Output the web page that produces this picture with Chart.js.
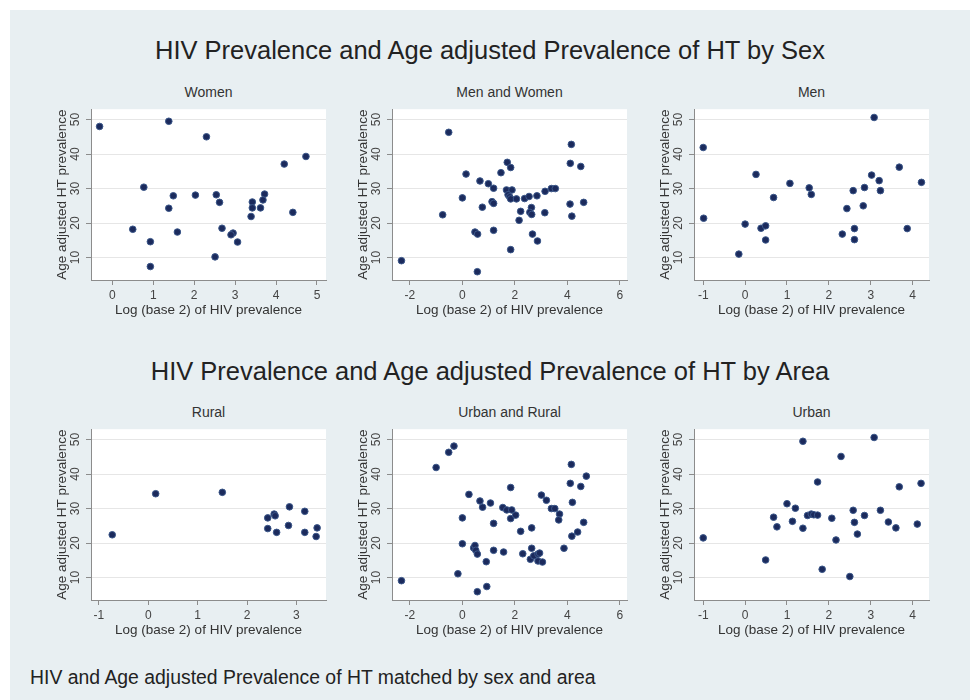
<!DOCTYPE html>
<html>
<head>
<meta charset="utf-8">
<script src="https://cdn.jsdelivr.net/npm/chart.js@4.4.1/dist/chart.umd.min.js"></script>
<style>
  body { margin: 0; background: #fff; font-family: "Liberation Sans", Arial, sans-serif; }
  #bg { position: absolute; left: 10px; top: 10px; width: 960px; height: 690px; background: #e8eff2; }
  .t { position: absolute; white-space: nowrap; color: #222; text-align: center; }
  canvas { position: absolute; }
</style>
</head>
<body>
<div id="bg"></div>
<div class="t" style="left:10px;width:960px;top:35px;font-size:25.5px;line-height:30px;">HIV Prevalence and Age adjusted Prevalence of HT by Sex</div>
<div class="t" style="left:10px;width:960px;top:356px;font-size:25.5px;line-height:30px;">HIV Prevalence and Age adjusted Prevalence of HT by Area</div>
<div class="t" style="left:30px;top:665px;font-size:19.4px;line-height:24px;text-align:left;">HIV and Age adjusted Prevalence of HT matched by sex and area</div>
<div id="wrap"></div>
<script>
// y axis shared by all six panels
const yTicks = [10, 20, 30, 40, 50];
const yMin = 3.5, yMax = 53;

// Women
const womenX = [-0.31, 1.38, 2.30, 4.73, 4.20, 0.77, 1.49, 2.03, 2.54, 2.62, 1.38, 3.72, 3.68, 3.42, 3.42, 3.62, 3.39, 4.41, 0.50, 1.59, 2.68, 2.95, 2.90, 3.06, 0.93, 0.93, 2.51];
const womenY = [48.0, 49.5, 45.0, 39.3, 37.1, 30.4, 27.9, 28.1, 28.2, 26.0, 24.3, 28.4, 26.7, 26.1, 24.4, 24.4, 21.9, 23.1, 18.2, 17.4, 18.5, 17.1, 16.6, 14.5, 14.6, 7.4, 10.2];

// Men and Women
const bothSexX = [-2.32, -0.52, -0.75, 0.00, 0.14, 0.67, 0.99, 1.19, 0.76, 1.13, 1.19, 1.47, 1.71, 1.84, 1.68, 1.89, 1.74, 1.80, 1.84, 2.06, 2.37, 2.54, 2.84, 3.15, 3.39, 3.54, 2.22, 2.16, 2.63, 2.57, 2.64, 3.14, 0.48, 0.58, 1.19, 2.67, 2.86, 1.84, 0.57, 4.15, 4.11, 4.51, 4.10, 4.62, 4.17];
const bothSexY = [9.1, 46.3, 22.4, 27.3, 34.2, 32.2, 31.4, 30.1, 24.6, 26.2, 25.7, 34.6, 37.6, 36.1, 29.6, 29.6, 28.2, 27.6, 27.0, 27.0, 27.1, 27.7, 27.9, 29.2, 30.0, 30.0, 23.4, 20.8, 24.5, 23.1, 22.5, 23.0, 17.4, 16.8, 17.9, 16.8, 14.8, 12.3, 5.9, 42.8, 37.3, 36.4, 25.5, 26.0, 22.0];

// Men
const menX = [-1.00, -0.99, 3.08, 3.68, 3.02, 3.20, 4.21, 3.23, 2.85, 2.58, 0.26, 1.07, 1.53, 1.58, 0.68, 2.43, 2.82, 0.00, 0.38, 0.49, 0.49, -0.15, 2.32, 2.61, 2.61, 3.87];
const menY = [41.9, 21.4, 50.6, 36.2, 33.9, 32.3, 31.8, 29.4, 30.3, 29.4, 34.1, 31.5, 30.2, 28.3, 27.4, 24.2, 25.0, 19.7, 18.5, 19.2, 15.1, 11.0, 16.8, 18.4, 15.2, 18.4];

// Rural
const ruralX = [-0.73, 0.15, 1.50, 2.42, 2.55, 2.57, 2.86, 3.17, 2.42, 2.84, 2.60, 3.17, 3.42, 3.40];
const ruralY = [22.4, 34.3, 34.7, 27.3, 28.4, 27.9, 30.5, 29.2, 24.2, 25.1, 23.1, 23.1, 24.4, 21.9];

// Urban and Rural
const bothAreaX = [-2.32, -1.00, -0.52, -0.32, 0.25, 0.00, 0.00, -0.17, 0.67, 0.77, 1.07, 1.19, 0.43, 0.48, 0.51, 0.57, 0.91, 0.57, 0.93, 1.19, 1.57, 1.54, 1.69, 1.88, 1.84, 2.03, 1.84, 2.22, 2.30, 2.64, 2.64, 2.59, 2.72, 2.88, 2.94, 2.88, 3.05, 3.01, 3.20, 3.39, 3.52, 3.70, 3.67, 3.87, 4.15, 4.11, 4.72, 4.51, 4.19, 4.62, 4.39, 4.17];
const bothAreaY = [9.1, 41.9, 46.3, 48.1, 34.1, 27.3, 19.8, 11.1, 32.2, 30.4, 31.6, 25.7, 18.6, 19.3, 17.9, 16.8, 14.6, 5.9, 7.4, 17.9, 17.4, 30.3, 29.6, 29.6, 27.1, 28.1, 36.1, 23.4, 16.9, 24.4, 18.5, 15.3, 16.3, 16.8, 17.1, 14.8, 14.5, 33.9, 32.4, 30.0, 30.0, 28.4, 26.7, 18.5, 42.8, 37.3, 39.4, 36.4, 31.8, 26.0, 23.2, 22.0];

// Urban
const urbanX = [-1.00, 0.49, 0.68, 0.76, 1.00, 1.20, 1.13, 1.38, 1.38, 1.49, 1.58, 1.64, 1.73, 1.73, 1.84, 2.07, 2.17, 2.29, 2.50, 2.58, 2.61, 2.68, 2.85, 3.08, 3.23, 3.42, 3.60, 3.68, 4.20, 4.11];
const urbanY = [21.5, 15.1, 27.5, 24.7, 31.4, 30.1, 26.3, 24.3, 49.5, 28.0, 28.4, 28.2, 28.1, 37.7, 12.4, 27.2, 20.9, 45.1, 10.3, 29.5, 26.0, 22.6, 28.0, 50.6, 29.5, 26.1, 24.4, 36.3, 37.3, 25.5];

// x tick labels of each panel
const xTicksWomen = [0, 1, 2, 3, 4, 5];
const xTicksWide = [-2, 0, 2, 4, 6];
const xTicksMen = [-1, 0, 1, 2, 3, 4];
const xTicksRural = [-1, 0, 1, 2, 3];

const panels = [
  { title: 'Women',           xs: womenX,    ys: womenY,    ticks: xTicksWomen, min: -0.52, max: 5.22, left: 91,  top: 102 },
  { title: 'Men and Women',   xs: bothSexX,  ys: bothSexY,  ticks: xTicksWide,  min: -2.68, max: 6.27, left: 392, top: 102 },
  { title: 'Men',             xs: menX,      ys: menY,      ticks: xTicksMen,   min: -1.22, max: 4.39, left: 694, top: 102 },
  { title: 'Rural',           xs: ruralX,    ys: ruralY,    ticks: xTicksRural, min: -1.16, max: 3.60, left: 91,  top: 422 },
  { title: 'Urban and Rural', xs: bothAreaX, ys: bothAreaY, ticks: xTicksWide,  min: -2.68, max: 6.27, left: 392, top: 422 },
  { title: 'Urban',           xs: urbanX,    ys: urbanY,    ticks: xTicksMen,   min: -1.22, max: 4.39, left: 694, top: 422 }
];

Chart.defaults.font.family = '"Liberation Sans", Arial, sans-serif';

const plotW = 235, plotH = 178, yAxisW = 40, xAxisH = 40, padTop = 4, padRight = 6;
const axisGray = '#8c8c8c';

// white plot region like the stata graph
const plotBg = {
  id: 'plotBg',
  beforeDraw(chart) {
    const a = chart.chartArea, c = chart.ctx;
    c.save();
    c.fillStyle = '#fff';
    c.fillRect(a.left, a.top, a.right - a.left, a.bottom - a.top);
    c.restore();
  }
};

const wrap = document.getElementById('wrap');
panels.forEach(p => {
  const lab = document.createElement('div');
  lab.className = 't';
  lab.style.cssText = `left:${p.left}px;width:${plotW}px;top:${p.top - 19}px;font-size:14px;line-height:18px;color:#333;`;
  lab.textContent = p.title;
  wrap.appendChild(lab);

  const cv = document.createElement('canvas');
  cv.width = yAxisW + plotW + padRight;
  cv.height = padTop + plotH + xAxisH;
  cv.style.left = (p.left - yAxisW) + 'px';
  cv.style.top = (p.top - padTop) + 'px';
  wrap.appendChild(cv);

  new Chart(cv, {
    type: 'scatter',
    data: {
      datasets: [{
        data: p.xs.map((v, i) => ({ x: v, y: p.ys[i] })),
        backgroundColor: '#1b2a5c',
        borderColor: '#3b5789',
        borderWidth: 1,
        pointRadius: 3.3
      }]
    },
    options: {
      responsive: false,
      animation: false,
      events: [],
      layout: { padding: { top: padTop, right: padRight, left: 0, bottom: 0 } },
      plugins: { legend: { display: false }, tooltip: { enabled: false } },
      scales: {
        x: {
          type: 'linear',
          min: p.min,
          max: p.max,
          afterBuildTicks: s => { s.ticks = p.ticks.map(v => ({ value: v })); },
          afterFit: s => { s.height = xAxisH; },
          grid: { drawOnChartArea: false, drawTicks: true, tickLength: 5, tickColor: axisGray },
          border: { color: axisGray },
          ticks: { color: '#444', font: { size: 12 }, padding: 3, maxRotation: 0, autoSkip: false },
          title: { display: true, text: 'Log (base 2) of HIV prevalence', color: '#333', font: { size: 13.5 }, padding: { top: 0, bottom: 2 } }
        },
        y: {
          type: 'linear',
          min: yMin,
          max: yMax,
          afterBuildTicks: s => { s.ticks = yTicks.map(v => ({ value: v })); },
          afterFit: s => { s.width = yAxisW; },
          grid: { color: '#e6e6e6', drawTicks: true, tickLength: 5, tickColor: axisGray },
          border: { color: axisGray },
          ticks: { color: '#444', font: { size: 12 }, padding: 4, minRotation: 90, maxRotation: 90, crossAlign: 'center' },
          title: { display: true, text: 'Age adjusted HT prevalence', color: '#333', font: { size: 13.5 }, padding: { top: 3, bottom: 0 } }
        }
      }
    },
    plugins: [plotBg]
  });
});
</script>
</body>
</html>
